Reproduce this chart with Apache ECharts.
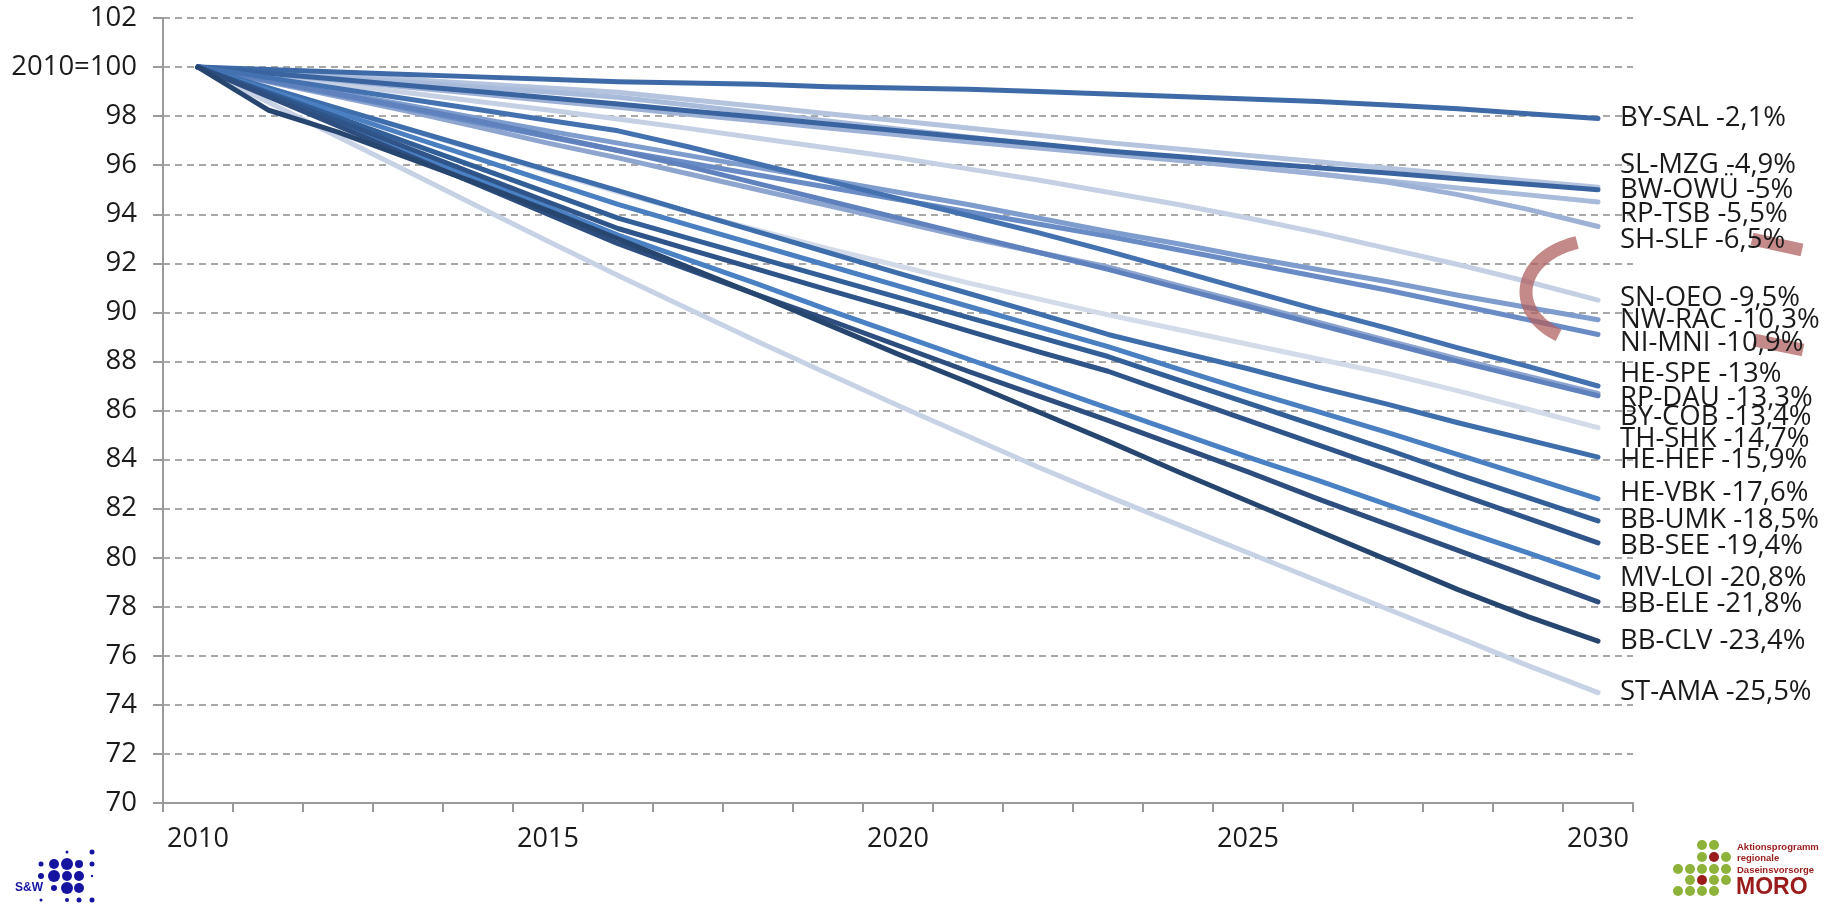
<!DOCTYPE html>
<html>
<head>
<meta charset="utf-8">
<script src="https://cdn.jsdelivr.net/npm/echarts@6/dist/echarts.min.js"></script>
<style>
html,body{margin:0;padding:0;background:#fff;}
#chart{width:1835px;height:906px;}
</style>
</head>
<body>
<div id="chart"></div>
<script>
const years = ['2010','2011','2012','2013','2014','2015','2016','2017','2018','2019','2020','2021','2022','2023','2024','2025','2026','2027','2028','2029','2030'];
const yTicks = [70,72,74,76,78,80,82,84,86,88,90,92,94,96,98,100,102];
const regions = ['BY-SAL','SL-MZG','BW-OWÜ','RP-TSB','SH-SLF','SN-OEO','NW-RAC','NI-MNI','HE-SPE','RP-DAU','BY-COB','TH-SHK','HE-HEF','HE-VBK','BB-UMK','BB-SEE','MV-LOI','BB-ELE','BB-CLV','ST-AMA'];
const changes = ['-2,1%','-4,9%','-5%','-5,5%','-6,5%','-9,5%','-10,3%','-10,9%','-13%','-13,3%','-13,4%','-14,7%','-15,9%','-17,6%','-18,5%','-19,4%','-20,8%','-21,8%','-23,4%','-25,5%'];

const BY_SAL = [100,99.9,99.8,99.7,99.6,99.5,99.4,99.35,99.3,99.2,99.15,99.1,99.0,98.9,98.8,98.7,98.6,98.45,98.3,98.1,97.9];
const SL_MZG = [100,99.83,99.66,99.49,99.32,99.15,98.97,98.68,98.39,98.1,97.81,97.52,97.22,96.92,96.66,96.4,96.14,95.88,95.62,95.36,95.1];
const BW_OWU = [100,99.75,99.5,99.25,99.0,98.75,98.49,98.22,97.95,97.68,97.4,97.13,96.86,96.58,96.35,96.12,95.9,95.68,95.45,95.22,95.0];
const RP_TSB = [100,99.8,99.59,99.39,99.18,98.98,98.77,98.45,98.13,97.8,97.48,97.15,96.82,96.5,96.21,95.93,95.64,95.36,95.07,94.79,94.5];
const SH_SLF = [100,99.73,99.46,99.18,98.91,98.63,98.36,98.08,97.8,97.52,97.24,96.96,96.7,96.45,96.2,95.95,95.65,95.3,94.8,94.2,93.5];
const SN_OEO = [100,99.65,99.3,98.95,98.6,98.25,97.88,97.5,97.1,96.7,96.3,95.85,95.4,94.9,94.4,93.85,93.25,92.6,91.95,91.25,90.5];
const NW_RAC = [100,99.48,98.96,98.44,97.92,97.4,96.9,96.4,95.9,95.4,94.9,94.4,93.85,93.3,92.8,92.25,91.75,91.25,90.7,90.2,89.7];
const NI_MNI = [100,99.43,98.86,98.3,97.73,97.16,96.6,96.1,95.6,95.1,94.6,94.1,93.6,93.1,92.55,92.0,91.45,90.9,90.3,89.7,89.1];
const HE_SPE = [100,99.57,99.13,98.7,98.27,97.83,97.4,96.75,96.05,95.35,94.65,93.95,93.25,92.5,91.7,90.9,90.1,89.35,88.55,87.8,87.0];
const RP_DAU = [100,99.4,98.8,98.2,97.55,96.9,96.3,95.65,95.0,94.35,93.7,93.05,92.45,91.85,91.1,90.35,89.6,88.85,88.1,87.4,86.7];
const BY_COB = [100,99.45,98.9,98.35,97.8,97.2,96.6,95.95,95.25,94.55,93.85,93.15,92.45,91.75,91.0,90.25,89.5,88.75,88.0,87.3,86.6];
const TH_SHK = [100,99.15,98.3,97.45,96.6,95.75,94.9,94.1,93.35,92.6,91.9,91.2,90.55,89.9,89.3,88.7,88.1,87.5,86.8,86.05,85.3];
const HE_HEF = [100,99.16,98.32,97.48,96.64,95.8,94.96,94.12,93.28,92.44,91.6,90.78,89.95,89.1,88.4,87.7,86.95,86.25,85.5,84.8,84.1];
const HE_VBK = [100,99.07,98.14,97.2,96.27,95.33,94.4,93.57,92.74,91.91,91.08,90.25,89.42,88.6,87.7,86.8,85.95,85.1,84.2,83.3,82.4];
const BB_UMK = [100,98.97,97.95,96.92,95.9,94.87,93.84,93.03,92.22,91.42,90.61,89.8,89.0,88.2,87.25,86.3,85.35,84.4,83.4,82.45,81.5];
const BB_SEE = [100,98.9,97.8,96.7,95.6,94.5,93.42,92.58,91.75,90.92,90.1,89.25,88.4,87.6,86.6,85.6,84.6,83.6,82.6,81.6,80.6];
const MV_LOI = [100,98.86,97.72,96.58,95.43,94.3,93.15,92.15,91.15,90.1,89.1,88.1,87.1,86.1,85.1,84.1,83.15,82.15,81.15,80.2,79.2];
const BB_ELE = [100,98.8,97.6,96.4,95.2,94.0,92.8,91.75,90.7,89.7,88.65,87.6,86.6,85.6,84.55,83.5,82.4,81.35,80.3,79.25,78.2];
const BB_CLV = [100,98.25,97.35,96.3,95.25,94.15,93.0,91.85,90.7,89.5,88.3,87.15,85.95,84.75,83.5,82.3,81.1,79.9,78.7,77.6,76.6];
const ST_AMA = [100,98.58,97.16,95.74,94.32,92.9,91.5,90.15,88.8,87.5,86.2,84.95,83.7,82.5,81.35,80.2,79.05,77.9,76.75,75.6,74.5];

const seriesValues = [BY_SAL,SL_MZG,BW_OWU,RP_TSB,SH_SLF,SN_OEO,NW_RAC,NI_MNI,HE_SPE,RP_DAU,BY_COB,TH_SHK,HE_HEF,HE_VBK,BB_UMK,BB_SEE,MV_LOI,BB_ELE,BB_CLV,ST_AMA];
const colors = ['#3E6BA7','#B4C3DE','#3A64A0','#A9BBDB','#9DB1D6','#C5D0E5','#7E9CCD','#6A8CC6','#4472B0','#8EA5D0','#5F82BE','#D3DBEA','#3F6EAD','#4A7FC1','#325F98','#2E5489','#4A80C4','#2D4E7E','#27466F','#C8D2E6'];
// label vertical nudges (px) so the end labels sit as in the reference
const labelDy = [0,-22,0,12,14,-2,0,9,-12,5,21,11,3,-6,-1,3,1,2,0,0];
// drawing order: light lines first, darker on top
const drawOrder = [19,11,5,1,3,4,9,6,7,10,0,2,8,12,13,16,14,15,17,18];

const FONT = '"Open Sans", "Noto Sans", sans-serif';
const chart = echarts.init(document.getElementById('chart'), null, {renderer:'canvas'});

const series = drawOrder.map(i => ({
  name: regions[i],
  type: 'line',
  data: seriesValues[i],
  symbol: 'none',
  lineStyle: {width: 5, color: colors[i], cap: 'round', join: 'round'},
  itemStyle: {color: colors[i]},
  emphasis: {disabled: true},
  endLabel: {
    show: true,
    formatter: p => regions[i] + ' ' + changes[i],
    color: '#1a1a1a',
    fontFamily: FONT,
    fontSize: 27.5,
    lineHeight: 24,
    distance: 22,
    offset: [0, labelDy[i]]
  }
}));

// red hand-drawn annotation: left elliptical bracket plus two short strokes
const annoColor = 'rgba(176,96,96,0.74)';
const bracketPts = [];
for (let d = 124; d <= 252; d += 4) {
  const t = d * Math.PI / 180;
  bracketPts.push([1600 + 74 * Math.cos(t), 292 + 52 * Math.sin(t)]);
}
const graphics = [
  {type: 'polyline', z: 10, silent: true, shape: {points: bracketPts},
   style: {stroke: annoColor, lineWidth: 13, fill: null, lineCap: 'butt', lineJoin: 'round'}},
  {type: 'line', z: 0, silent: true,
   shape: {x1: 1752, y1: 239, x2: 1802, y2: 250},
   style: {stroke: annoColor, lineWidth: 13, lineCap: 'butt'}},
  {type: 'line', z: 0, silent: true,
   shape: {x1: 1754, y1: 340, x2: 1803, y2: 350},
   style: {stroke: annoColor, lineWidth: 13, lineCap: 'butt'}}
];

// S&W logo
const swBlue = '#1414a0';
const swDots = [[67,852,1.5],[92,852,2.5],[41,864,2.5],[54,864,5],[67,864,6],[79,864,4],[92,864,2.5],[41,876,3],[54,876,6],[67,876,5],[79,876,5],[92,876,1.2],[54,888,3],[67,888,6],[79,888,5],[41,900,1.5],[67,900,2],[79,900,2.5],[92,900,2.5]];
swDots.forEach(d => graphics.push({type:'circle', silent:true, shape:{cx:d[0], cy:d[1], r:d[2]}, style:{fill:swBlue}}));
graphics.push({type:'text', silent:true, x:15, y:888, style:{text:'S&W', fill:swBlue, font:'bold 12px "Liberation Sans", Arial', textVerticalAlign:'middle'}});

// MORO logo
const green = '#8DB33A', red = '#9B1B1B';
const cols = [1678,1690,1702,1714,1726];
const rows = [845,857,869,880,891];
const moroGrid = [[0,0,1,1,0],[0,0,1,2,1],[1,1,1,1,1],[0,1,2,1,1],[1,1,1,1,0]];
moroGrid.forEach((r, ri) => r.forEach((c, ci) => {
  if (c) graphics.push({type:'circle', silent:true, shape:{cx:cols[ci], cy:rows[ri], r:5}, style:{fill: c === 2 ? red : green}});
}));
['Aktionsprogramm','regionale','Daseinsvorsorge'].forEach((t, k) => graphics.push({
  type:'text', silent:true, x:1737, y:847 + k*11.5,
  style:{text:t, fill:red, font:'bold 9.5px "Liberation Sans", Arial', textVerticalAlign:'middle'}
}));
graphics.push({type:'text', silent:true, x:1736, y:888, style:{text:'MORO', fill:red, font:'bold 23px "Liberation Sans", Arial', textVerticalAlign:'middle'}});

chart.setOption({
  animation: false,
  backgroundColor: '#fff',
  color: colors,
  grid: {left: 163, right: 202, top: 18, bottom: 103, containLabel: false},
  xAxis: {
    type: 'category',
    data: years,
    boundaryGap: true,
    axisLine: {show: true, lineStyle: {color: '#9a9a9a', width: 2}},
    axisTick: {show: true, interval: 0, length: 9, lineStyle: {color: '#9a9a9a', width: 2}},
    axisLabel: {interval: 4, margin: 23, color: '#1a1a1a', fontFamily: FONT, fontSize: 27},
    splitLine: {show: false}
  },
  yAxis: {
    type: 'value',
    min: yTicks[0],
    max: yTicks[yTicks.length - 1],
    interval: 2,
    axisLine: {show: true, lineStyle: {color: '#9a9a9a', width: 2}},
    axisTick: {show: true, length: 10, lineStyle: {color: '#9a9a9a', width: 2}},
    axisLabel: {
      margin: 26, color: '#1a1a1a', fontFamily: FONT, fontSize: 27.5,
      formatter: v => v === 100 ? '2010=100' : String(v)
    },
    splitLine: {show: true, lineStyle: {color: '#8c8c8c', width: 1.5, type: [7, 5]}}
  },
  series: series,
  graphic: graphics
});
</script>
</body>
</html>
